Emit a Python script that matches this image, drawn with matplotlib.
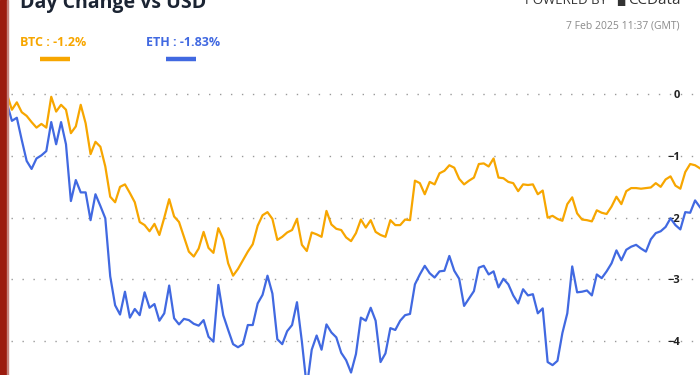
import matplotlib
matplotlib.use("Agg")
import matplotlib.pyplot as plt
from matplotlib.patches import Rectangle

# day change (%) sampled along the day
btc = [0.0, -0.25, -0.13, -0.29, -0.35, -0.45, -0.54, -0.48, -0.54, -0.04,
       -0.28, -0.17, -0.25, -0.63, -0.52, -0.17, -0.47, -0.97, -0.77, -0.85,
       -1.17, -1.66, -1.75, -1.5, -1.46, -1.6, -1.75, -2.07, -2.12, -2.22,
       -2.1, -2.28, -2.0, -1.7, -1.98, -2.07, -2.31, -2.55, -2.63, -2.5,
       -2.23, -2.49, -2.57, -2.17, -2.35, -2.74, -2.94, -2.83, -2.69, -2.55,
       -2.43, -2.13, -1.96, -1.91, -2.02, -2.36, -2.31, -2.24, -2.2, -2.02,
       -2.44, -2.54, -2.24, -2.27, -2.31, -1.89, -2.11, -2.18, -2.2, -2.32,
       -2.38, -2.25, -2.03, -2.16, -2.04, -2.23, -2.28, -2.31, -2.04, -2.12,
       -2.12, -2.03, -2.04, -1.40, -1.44, -1.62, -1.42, -1.46, -1.28, -1.24,
       -1.15, -1.19, -1.37, -1.46, -1.40, -1.35, -1.13, -1.12, -1.17, -1.04,
       -1.35, -1.36, -1.42, -1.44, -1.57, -1.46, -1.47, -1.46, -1.62, -1.56,
       -2.0, -1.97, -2.02, -2.05, -1.78, -1.67, -1.93, -2.03, -2.04, -2.06,
       -1.88, -1.92, -1.94, -1.82, -1.66, -1.78, -1.57, -1.52, -1.52, -1.53,
       -1.52, -1.51, -1.44, -1.5, -1.38, -1.33, -1.48, -1.53, -1.26, -1.13,
       -1.15, -1.2]
eth = [-0.15, -0.43, -0.38, -0.74, -1.08, -1.21, -1.04, -0.99, -0.92, -0.45,
       -0.81, -0.45, -0.81, -1.73, -1.39, -1.59, -1.59, -2.04, -1.62, -1.81,
       -2.01, -2.95, -3.42, -3.57, -3.2, -3.62, -3.48, -3.58, -3.21, -3.46,
       -3.4, -3.67, -3.55, -3.1, -3.63, -3.73, -3.64, -3.66, -3.72, -3.75,
       -3.66, -3.93, -4.01, -3.09, -3.58, -3.82, -4.05, -4.1, -4.05, -3.74,
       -3.74, -3.39, -3.25, -2.94, -3.23, -3.97, -4.05, -3.84, -3.74, -3.37,
       -4.01, -4.75, -4.14, -3.91, -4.14, -3.73, -3.86, -3.94, -4.19, -4.31,
       -4.51, -4.21, -3.62, -3.67, -3.46, -3.67, -4.34, -4.2, -3.79, -3.82,
       -3.67, -3.58, -3.56, -3.08, -2.92, -2.78, -2.9, -2.97, -2.87, -2.86,
       -2.62, -2.86, -2.99, -3.43, -3.31, -3.19, -2.81, -2.78, -2.92, -2.87,
       -3.13, -2.99, -3.08, -3.26, -3.39, -3.16, -3.26, -3.24, -3.55, -3.47,
       -4.34, -4.39, -4.32, -3.87, -3.55, -2.79, -3.21, -3.2, -3.18, -3.26,
       -2.92, -2.98, -2.87, -2.74, -2.53, -2.69, -2.52, -2.47, -2.44, -2.5,
       -2.55, -2.35, -2.25, -2.22, -2.15, -2.01, -2.12, -2.19, -1.91, -1.92,
       -1.72, -1.83]
yticks = [0, -1, -2, -3, -4]
ytick_labels = ["0", "\u22121", "\u22122", "\u22123", "\u22124"]
legend_labels = ["BTC : -1.2%", "ETH : -1.83%"]
colors = ["#F7A600", "#4169E1"]

plt.rcParams['font.family'] = ['Open Sans', 'DejaVu Sans']

fig = plt.figure(figsize=(7, 3.75), dpi=100)
W, H = 700.0, 375.0

ax = fig.add_axes([7 / W, 0, 693 / W, 295 / H])
ax.set_xlim(0, len(btc) - 1)
ax.set_ylim(-4.55, 0.232)
for s in ax.spines.values():
    s.set_visible(False)
ax.set_xticks([])

for v in yticks:
    ax.axhline(v, xmin=4 / 693, xmax=689 / 693, color="#9a9a9a", lw=1.0,
               linestyle=(0, (1.0, 6.9)), zorder=1)

x = list(range(len(btc)))
ax.plot(x, btc, color=colors[0], lw=1.6, zorder=3)
ax.plot(x, eth, color=colors[1], lw=1.6, zorder=3)

ax.yaxis.set_ticks_position("right")
ax.set_yticks(yticks)
ax.set_yticklabels(ytick_labels, fontsize=8, fontweight="bold", color="#222222")
ax.tick_params(axis="y", length=0, pad=-14.4)
for lab in ax.get_yticklabels():
    lab.set_horizontalalignment("right")
    lab.set_zorder(5)

# left red bar
fig.patches.append(Rectangle((0, 0), 7 / W, 1, transform=fig.transFigure,
                             color="#9B1B0E", zorder=10))
fig.patches.append(Rectangle((7 / W, 0), 1 / W, 1, transform=fig.transFigure,
                             color="#C7857E", zorder=10))

# header texts (cropped at the top like the reference)
fig.text(20 / W, 1 - 8 / H, "Day Change vs USD", fontsize=14, fontweight="bold",
         color="#1B2433", va="baseline", ha="left")
fig.text(607 / W, 1 - 4.5 / H, "POWERED BY", fontsize=9.5, color="#333333",
         va="baseline", ha="right")
fig.text(616 / W, 1 - 4.5 / H, "\u25A0", fontsize=7, color="#333333",
         va="baseline", ha="left")
fig.text(628 / W, 1 - 4.5 / H, "CCData", fontsize=11, color="#333333",
         va="baseline", ha="left")
fig.text(680 / W, 1 - 28 / H, "7 Feb 2025 11:37 (GMT)", fontsize=7.5,
         color="#8a8a8a", va="baseline", ha="right")

# legend
fig.text(20 / W, 1 - 46 / H, legend_labels[0], fontsize=9, fontweight="bold",
         color=colors[0], va="baseline", ha="left")
fig.text(146 / W, 1 - 46 / H, legend_labels[1], fontsize=9, fontweight="bold",
         color=colors[1], va="baseline", ha="left")
fig.add_artist(plt.Line2D([40 / W, 70 / W], [1 - 59 / H, 1 - 59 / H],
                          transform=fig.transFigure, color=colors[0], lw=3.2,
                          solid_capstyle="butt"))
fig.add_artist(plt.Line2D([166 / W, 196 / W], [1 - 59 / H, 1 - 59 / H],
                          transform=fig.transFigure, color=colors[1], lw=3.2,
                          solid_capstyle="butt"))

fig.savefig("out.png", dpi=100)
